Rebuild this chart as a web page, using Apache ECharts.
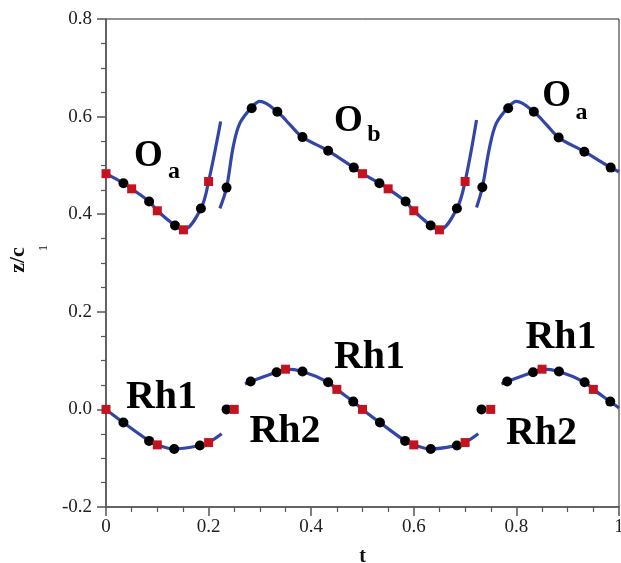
<!DOCTYPE html>
<html>
<head>
<meta charset="utf-8">
<script src="https://cdn.jsdelivr.net/npm/echarts@6/dist/echarts.min.js"></script>
<style>
html,body{margin:0;padding:0;background:#fff;}
#chart{width:621px;height:563px;}
</style>
</head>
<body>
<div id="chart"></div>
<script>
// ---- data ----
const xTickLabels = ['0', '0.2', '0.4', '0.6', '0.8', '1'];
const yTickLabels = ['-0.2', '0.0', '0.2', '0.4', '0.6', '0.8'];

const topSeg1 = [[0,0.483],[0.034,0.4635],[0.05,0.452],[0.084,0.426],[0.1,0.407],[0.1345,0.377],[0.151,0.368],[0.185,0.4115],[0.2,0.467],[0.2235,0.59]];
const topSeg2 = [[0.222,0.412],[0.235,0.4545],[0.248,0.5385],[0.261,0.5865],[0.284,0.619],[0.300,0.631],[0.334,0.610],[0.359,0.583],[0.383,0.558],[0.433,0.530],[0.483,0.4955],[0.5,0.483],[0.533,0.4635],[0.55,0.452],[0.584,0.426],[0.6,0.407],[0.633,0.377],[0.65,0.368],[0.684,0.4115],[0.70,0.467],[0.7223,0.593]];
const topSeg3 = [[0.7223,0.4135],[0.7336,0.4553],[0.748,0.5385],[0.761,0.5865],[0.784,0.619],[0.8,0.631],[0.834,0.610],[0.859,0.583],[0.8824,0.557],[0.9324,0.528],[0.9838,0.4955],[1.0,0.487]];

const lowSeg1 = [[0,0],[0.034,-0.027],[0.084,-0.0645],[0.1,-0.0727],[0.133,-0.081],[0.183,-0.074],[0.2,-0.068],[0.2255,-0.05]];
const lowSeg2 = [[0.271,0.052],[0.282,0.057],[0.3325,0.0762],[0.35,0.0824],[0.383,0.0775],[0.433,0.0557],[0.45,0.041],[0.482,0.016],[0.5,0],[0.534,-0.027],[0.583,-0.0645],[0.6,-0.0727],[0.633,-0.081],[0.684,-0.074],[0.7,-0.068],[0.7258,-0.05]];
const lowSeg3 = [[0.771,0.052],[0.782,0.057],[0.8325,0.0762],[0.85,0.0824],[0.883,0.0775],[0.933,0.0557],[0.95,0.041],[0.983,0.016],[1,0.003]];

const topCircles = [[0.034,0.4635],[0.084,0.426],[0.1345,0.377],[0.185,0.4115],[0.235,0.4545],[0.284,0.617],[0.334,0.610],[0.383,0.558],[0.433,0.530],[0.483,0.4955],[0.533,0.4635],[0.584,0.426],[0.633,0.377],[0.684,0.4115],[0.7336,0.4553],[0.784,0.617],[0.834,0.610],[0.8824,0.557],[0.9324,0.528],[0.9838,0.4955]];
const topSquares = [[0,0.483],[0.05,0.452],[0.1,0.407],[0.151,0.368],[0.2,0.467],[0.5,0.483],[0.55,0.452],[0.6,0.407],[0.65,0.368],[0.7,0.467]];

const lowCircles = [[0.034,-0.027],[0.084,-0.0645],[0.133,-0.081],[0.183,-0.074],[0.235,0],[0.282,0.057],[0.3325,0.0762],[0.383,0.0775],[0.433,0.0557],[0.482,0.016],[0.534,-0.027],[0.583,-0.0645],[0.633,-0.081],[0.684,-0.074],[0.732,0],[0.782,0.057],[0.8325,0.0762],[0.883,0.0775],[0.933,0.0557],[0.983,0.016]];
const lowSquares = [[0,0],[0.1,-0.0727],[0.2,-0.068],[0.25,0],[0.35,0.0824],[0.45,0.041],[0.5,0],[0.6,-0.0727],[0.7,-0.068],[0.75,0],[0.85,0.0824],[0.95,0.041]];

// annotations: [x, y, text, kind]
const annotations = [
  [0.0828, 0.518, 'O', 'big'], [0.1326, 0.487, 'a', 'sub'],
  [0.4727, 0.590, 'O', 'big'], [0.5224, 0.562, 'b', 'sub'],
  [0.8782, 0.642, 'O', 'big'], [0.9269, 0.608, 'a', 'sub'],
  [0.1082, 0.025, 'Rh1', 'rh'], [0.3489, -0.045, 'Rh2', 'rh'],
  [0.5136, 0.107, 'Rh1', 'rh'], [0.8489, -0.049, 'Rh2', 'rh'],
  [0.8869, 0.146, 'Rh1', 'rh']
];

// ---- chart ----
const BLUE = '#3246a8', RED = '#c4121f', AXIS = '#555';
const SERIF = '"Liberation Serif", "DejaVu Serif", serif';
const kindSize = {big: 37, sub: 24, rh: 40};
const chart = echarts.init(document.getElementById('chart'), null, {renderer: 'canvas'});

function lineSeries(data) {
  return {type: 'line', data: data, smooth: 0.35, symbol: 'none', silent: true,
    lineStyle: {color: BLUE, width: 3.2}, z: 2};
}
function markSeries(data, symbol, color, size) {
  return {type: 'scatter', data: data, symbol: symbol, symbolSize: size, silent: true,
    itemStyle: {color: color, opacity: 1}, z: 3};
}

const axisCommon = {
  type: 'value', interval: 0.2, splitNumber: 5,
  axisLine: {show: true, onZero: false, lineStyle: {color: AXIS, width: 1.5}},
  axisTick: {show: true, inside: false, length: 9, lineStyle: {color: AXIS, width: 1.5}},
  minorTick: {show: true, splitNumber: 4, length: 5, lineStyle: {color: AXIS, width: 1.2}},
  splitLine: {show: false}
};

chart.setOption({
  animation: false,
  backgroundColor: '#fff',
  grid: {left: 106, right: 2, top: 19, bottom: 56, show: true, borderColor: '#222', borderWidth: 1,
    containLabel: false, outerBoundsMode: 'none'},
  xAxis: Object.assign({}, axisCommon, {
    min: 0, max: 1,
    name: 't', nameLocation: 'middle', nameGap: 40,
    nameTextStyle: {fontFamily: SERIF, fontWeight: 'bold', fontSize: 20, color: '#111'},
    axisLabel: {margin: 11, fontFamily: SERIF, fontSize: 19, color: '#222',
      formatter: v => xTickLabels[Math.round(v / 0.2)]}
  }),
  yAxis: Object.assign({}, axisCommon, {
    min: -0.2, max: 0.8,
    axisLabel: {margin: 14, fontFamily: SERIF, fontSize: 19, color: '#222',
      formatter: v => yTickLabels[Math.round((v + 0.2) / 0.2)]}
  }),
  graphic: [
    {type: 'text', x: 18, y: 260, rotation: Math.PI / 2,
      style: {text: 'z/c', font: 'bold 22px ' + SERIF, fill: '#111', align: 'center', verticalAlign: 'middle'}},
    {type: 'text', x: 44, y: 248, rotation: Math.PI / 2,
      style: {text: '1', font: '12px ' + SERIF, fill: '#111', align: 'center', verticalAlign: 'middle'}}
  ],
  series: [
    lineSeries(topSeg1), lineSeries(topSeg2), lineSeries(topSeg3),
    lineSeries(lowSeg1), lineSeries(lowSeg2), lineSeries(lowSeg3),
    markSeries(topCircles, 'circle', '#000', 10),
    markSeries(lowCircles, 'circle', '#000', 10),
    markSeries(topSquares, 'rect', RED, 9),
    markSeries(lowSquares, 'rect', RED, 9),
    {type: 'scatter', silent: true, symbolSize: 0, z: 4,
      itemStyle: {color: 'transparent', opacity: 1},
      data: annotations.map(a => ({value: [a[0], a[1]], name: a[2],
        label: {fontFamily: SERIF, fontWeight: 'bold', fontSize: kindSize[a[3]], color: '#000', opacity: 1}})),
      label: {show: true, position: 'inside', color: '#000', formatter: p => p.name}
    }
  ]
});
</script>
</body>
</html>
